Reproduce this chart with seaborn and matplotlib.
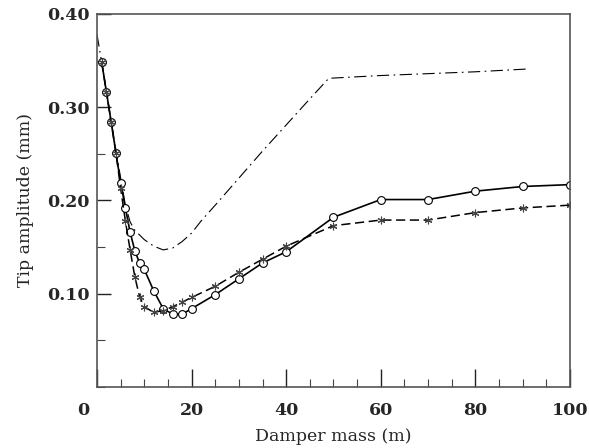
import numpy as np
import pandas as pd
import seaborn as sns
import matplotlib.pyplot as plt
from matplotlib.ticker import MultipleLocator

# values
mass = [1, 2, 3, 4, 5, 6, 7, 8, 9, 10, 12, 14, 16, 18, 20, 25, 30, 35, 40,
        50, 60, 70, 80, 90, 100]
amp_circle = [0.348, 0.316, 0.284, 0.251, 0.219, 0.192, 0.166, 0.146, 0.133,
              0.126, 0.103, 0.084, 0.078, 0.078, 0.084, 0.099, 0.116, 0.133,
              0.145, 0.182, 0.201, 0.201, 0.210, 0.215, 0.217]
amp_star = [0.348, 0.316, 0.284, 0.251, 0.213, 0.178, 0.147, 0.118, 0.097,
            0.086, 0.080, 0.082, 0.086, 0.091, 0.096, 0.108, 0.123, 0.137,
            0.151, 0.173, 0.179, 0.179, 0.187, 0.192, 0.195]

mass_dd = [0, 1, 2, 3, 4, 5, 6, 7, 8, 10, 12, 14, 16, 18, 20, 22, 25, 30,
           35, 40, 45, 49, 60, 70, 80, 91]
amp_dd = [0.378, 0.348, 0.316, 0.285, 0.254, 0.224, 0.195, 0.177, 0.168,
          0.158, 0.151, 0.147, 0.149, 0.156, 0.165, 0.178, 0.195, 0.224,
          0.253, 0.281, 0.309, 0.331, 0.334, 0.336, 0.338, 0.341]

xtick_vals = [0, 20, 40, 60, 80, 100]
ytick_vals = [0.10, 0.20, 0.30, 0.40]

df_c = pd.DataFrame({'mass': mass, 'amp': amp_circle})
df_s = pd.DataFrame({'mass': mass, 'amp': amp_star})
df_d = pd.DataFrame({'mass': mass_dd, 'amp': amp_dd})

sns.set_style("ticks")
plt.rcParams['font.family'] = ['DejaVu Serif']

fig = plt.figure(figsize=(5.89, 4.48), dpi=100)
ax = fig.add_axes([0.1647, 0.1362, 0.9677 - 0.1647, 0.9688 - 0.1362])

# dash-dot curve
sns.lineplot(data=df_d, x='mass', y='amp', ax=ax, color='black', lw=0.8,
             sort=False, linestyle=(0, (11, 4, 1.5, 4)))
# solid line with open circles
sns.lineplot(data=df_c, x='mass', y='amp', ax=ax, color='black', lw=1.2,
             sort=False, marker='o', markersize=5.6, markerfacecolor='white',
             markeredgecolor='black', markeredgewidth=0.8)
# dashed line with asterisks, on top so the shared points read as circled stars
sns.lineplot(data=df_s, x='mass', y='amp', ax=ax, color='black', lw=1.1,
             sort=False, linestyle=(0, (6, 3)), marker=(6, 2, 0),
             markersize=5.5, markeredgecolor='#444444', markeredgewidth=0.8)

ax.set_xlim(0, 100)
ax.set_ylim(0, 0.40)
ax.set_xticks(xtick_vals)
# origin label is drawn separately, a bit left of the corner
ax.set_xticklabels([''] + [str(v) for v in xtick_vals[1:]])
ax.xaxis.set_minor_locator(MultipleLocator(5))
ax.set_yticks(ytick_vals)
ax.set_yticklabels(['%.2f' % v for v in ytick_vals])
ax.yaxis.set_minor_locator(MultipleLocator(0.05))

ax.tick_params(axis='both', which='major', direction='in', length=10,
               width=1.0, color='#222222', labelsize=12.5)
ax.tick_params(axis='both', which='minor', direction='in', length=6,
               width=0.8, color='#444444')
ax.tick_params(axis='x', which='major', pad=11, length=13)
ax.tick_params(axis='y', which='major', pad=5)
for lab in ax.get_xticklabels() + ax.get_yticklabels():
    lab.set_fontweight('bold')

ax.annotate(str(xtick_vals[0]), xy=(0, 0), xycoords=ax.get_xaxis_transform(),
            xytext=(-10, -11), textcoords='offset points', ha='center',
            va='top', fontsize=12.5, fontweight='bold')

for side in ['left', 'bottom', 'top', 'right']:
    ax.spines[side].set_visible(True)
    ax.spines[side].set_linewidth(1.2)
    ax.spines[side].set_color('#555555')

ax.set_xlabel('Damper mass (m)', fontsize=12.5, labelpad=6)
ax.set_ylabel('Tip amplitude (mm)', fontsize=12.5, labelpad=10)

fig.savefig('out.png', dpi=100)
